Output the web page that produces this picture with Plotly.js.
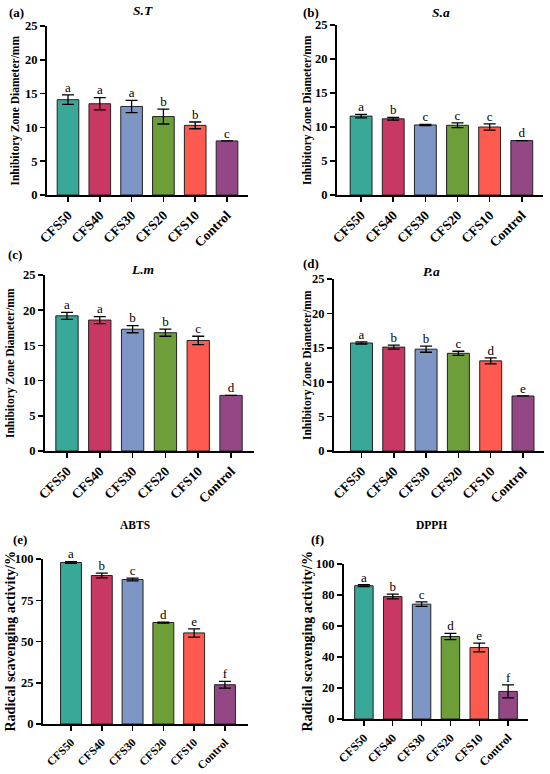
<!DOCTYPE html>
<html>
<head>
<meta charset="utf-8">
<script src="https://cdn.plot.ly/plotly-3.0.1.min.js"></script>
<style>html,body{margin:0;padding:0;background:#fff;}#chart{width:550px;height:774px;}</style>
</head>
<body>
<div id="chart"></div>
<script>
// ---- data ----
const categories = ['CFS50', 'CFS40', 'CFS30', 'CFS20', 'CFS10', 'Control'];

const stValues  = [14.1, 13.5, 13.1, 11.6, 10.3, 8.0];
const stErrors  = [0.7, 0.9, 0.9, 1.1, 0.5, 0];
const stLetters = ['a', 'a', 'a', 'b', 'b', 'c'];

const saValues  = [11.6, 11.2, 10.3, 10.25, 10.0, 8.0];
const saErrors  = [0.25, 0.2, 0.1, 0.35, 0.45, 0];
const saLetters = ['a', 'b', 'c', 'c', 'c', 'd'];

const lmValues  = [19.2, 18.6, 17.3, 16.8, 15.7, 7.9];
const lmErrors  = [0.5, 0.5, 0.5, 0.5, 0.6, 0];
const lmLetters = ['a', 'a', 'b', 'b', 'c', 'd'];

const paValues  = [15.7, 15.1, 14.8, 14.2, 13.1, 8.0];
const paErrors  = [0.15, 0.3, 0.45, 0.3, 0.45, 0];
const paLetters = ['a', 'b', 'b', 'c', 'd', 'e'];

const abtsValues  = [97.9, 90.0, 87.6, 61.5, 55.2, 23.8];
const abtsErrors  = [0.5, 1.5, 0.8, 0.3, 2.5, 2.0];
const abtsLetters = ['a', 'b', 'c', 'd', 'e', 'f'];

const dpphValues  = [86.0, 79.0, 74.1, 53.2, 46.1, 17.8];
const dpphErrors  = [0.6, 1.5, 1.5, 2.0, 2.8, 4.2];
const dpphLetters = ['a', 'b', 'c', 'd', 'e', 'f'];

const barColors = ['#3aa899', '#c93763', '#7e96c6', '#6e9e3a', '#ff5a50', '#944785'];

// ---- layout helpers ----
const W = 550, H = 774;
const FONT = 'Liberation Serif, Times New Roman, serif';

const panels = [
  {label: '(a)', title: 'S.T', italic: true, values: stValues, errors: stErrors, letters: stLetters,
   x0: 47, x1: 248, yTop: 26, yBot: 195, xr: [-0.66, 5.66], yr: [0, 25], dtick: 5, xtSize: 13.5,
   ytitle: 'Inhibitory Zone Diameter/mm', ytSize: 11.5, ytX: 15, labelPos: [16, 12], titlePos: [143, 11], bw: 0.68},
  {label: '(b)', title: 'S.a', italic: true, values: saValues, errors: saErrors, letters: saLetters,
   x0: 337, x1: 543, yTop: 25, yBot: 195, xr: [-0.75, 5.66], yr: [0, 25], dtick: 5, xtSize: 13.5,
   ytitle: 'Inhibitory Zone Diameter/mm', ytSize: 11.5, ytX: 307, labelPos: [311, 12], titlePos: [441, 13], bw: 0.68},
  {label: '(c)', title: 'L.m', italic: true, values: lmValues, errors: lmErrors, letters: lmLetters,
   x0: 45, x1: 254, yTop: 275, yBot: 451, xr: [-0.67, 5.7], yr: [0, 25], dtick: 5, xtSize: 13.5,
   ytitle: 'Inhibitory Zone Diameter/mm', ytSize: 11.5, ytX: 11, labelPos: [15, 255], titlePos: [142, 269], bw: 0.68},
  {label: '(d)', title: 'P.a', italic: true, values: paValues, errors: paErrors, letters: paLetters,
   x0: 334, x1: 544, yTop: 279, yBot: 451, xr: [-0.85, 5.65], yr: [0, 25], dtick: 5, xtSize: 13.5,
   ytitle: 'Inhibitory Zone Diameter/mm', ytSize: 11.5, ytX: 307, labelPos: [311, 264], titlePos: [431, 271], bw: 0.68},
  {label: '(e)', title: 'ABTS', italic: false, values: abtsValues, errors: abtsErrors, letters: abtsLetters,
   x0: 43, x1: 248, yTop: 559, yBot: 724, xr: [-0.91, 5.75], yr: [0, 100], dtick: 25, xtSize: 11.5,
   ytitle: 'Radical scavenging activity/%', ytSize: 14, ytX: 10, labelPos: [20, 539], titlePos: [135, 525], bw: 0.68},
  {label: '(f)', title: 'DPPH', italic: false, values: dpphValues, errors: dpphErrors, letters: dpphLetters,
   x0: 344, x1: 528, yTop: 564, yBot: 719, xr: [-0.69, 5.69], yr: [0, 100], dtick: 20, xtSize: 12,
   ytitle: 'Radical scavenging activity/%', ytSize: 14, ytX: 307, labelPos: [317, 539], titlePos: [431, 525], bw: 0.64}
];

const data = [];
const layout = {
  width: W, height: H,
  margin: {l: 0, r: 0, t: 0, b: 0},
  paper_bgcolor: '#fff', plot_bgcolor: '#fff',
  showlegend: false,
  font: {family: FONT, color: '#000'},
  annotations: []
};

panels.forEach((p, i) => {
  const n = i + 1;
  const xa = n === 1 ? 'x' : 'x' + n;
  const ya = n === 1 ? 'y' : 'y' + n;
  data.push({
    type: 'bar', x: categories, y: p.values, xaxis: xa, yaxis: ya,
    width: p.bw,
    marker: {color: barColors, line: {color: '#222', width: 1}},
    error_y: {type: 'data', array: p.errors, visible: true, color: '#000', thickness: 1.3, width: 6},
    hoverinfo: 'x+y'
  });
  data.push({
    type: 'scatter', mode: 'text', x: categories,
    y: p.values.map((v, k) => v + p.errors[k]),
    text: p.letters, textposition: 'top center',
    textfont: {family: FONT, size: 13, color: '#000'},
    xaxis: xa, yaxis: ya, cliponaxis: false, hoverinfo: 'skip'
  });
  const xKey = n === 1 ? 'xaxis' : 'xaxis' + n;
  const yKey = n === 1 ? 'yaxis' : 'yaxis' + n;
  layout[xKey] = {
    domain: [p.x0 / W, p.x1 / W], anchor: ya,
    type: 'category', range: p.xr,
    showline: true, linecolor: '#000', linewidth: 2,
    ticks: 'outside', ticklen: 5, tickwidth: 1.5, tickcolor: '#000',
    tickangle: -45, tickfont: {family: FONT, size: p.xtSize, weight: 'bold', color: '#000'},
    showgrid: false, zeroline: false, fixedrange: true
  };
  layout[yKey] = {
    domain: [1 - p.yBot / H, 1 - p.yTop / H], anchor: xa,
    range: p.yr, dtick: p.dtick, tick0: 0,
    showline: true, linecolor: '#000', linewidth: 2,
    ticks: 'outside', ticklen: 5, tickwidth: 1.5, tickcolor: '#000',
    tickfont: {family: FONT, size: 12.5, weight: 'bold', color: '#000'},
    showgrid: false, zeroline: false, fixedrange: true
  };
  layout.annotations.push({
    xref: 'paper', yref: 'paper', x: p.labelPos[0] / W, y: 1 - p.labelPos[1] / H,
    xanchor: 'center', yanchor: 'middle', showarrow: false,
    text: '<b>' + p.label + '</b>', font: {family: FONT, size: 13, color: '#000'}
  });
  layout.annotations.push({
    xref: 'paper', yref: 'paper', x: p.titlePos[0] / W, y: 1 - p.titlePos[1] / H,
    xanchor: 'center', yanchor: 'middle', showarrow: false,
    text: p.italic ? '<b><i>' + p.title + '</i></b>' : '<b>' + p.title + '</b>',
    font: {family: FONT, size: p.italic ? 13.5 : 11.5, color: '#000'}
  });
  layout.annotations.push({
    xref: 'paper', yref: 'paper', x: p.ytX / W, y: 1 - ((p.yTop + p.yBot) / 2) / H,
    xanchor: 'center', yanchor: 'middle', showarrow: false, textangle: -90,
    text: '<b>' + p.ytitle + '</b>', font: {family: FONT, size: p.ytSize, color: '#000'}
  });
});

Plotly.newPlot('chart', data, layout, {displayModeBar: false, staticPlot: true});
</script>
</body>
</html>
